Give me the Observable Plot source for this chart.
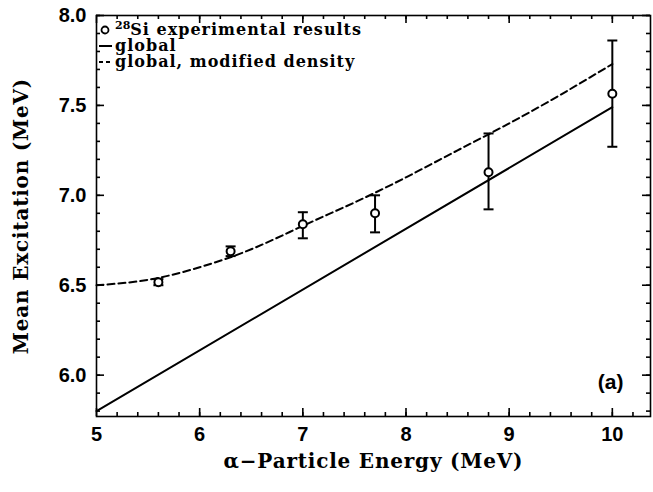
<!DOCTYPE html>
<html><head><meta charset="utf-8">
<script src="https://cdn.jsdelivr.net/npm/d3@7"></script>
<script src="https://cdn.jsdelivr.net/npm/@observablehq/plot@0.6"></script>
<style>
body{margin:0;background:#fff;}
#wrap{position:relative;width:653px;height:492px;}
.legend{position:absolute;left:99px;top:22px;font-family:"DejaVu Serif",serif;font-weight:bold;font-size:16px;letter-spacing:1px;color:#000;}
.legend .row{height:16px;line-height:16px;display:flex;align-items:center;white-space:nowrap;}
.legend svg{margin-right:2px;}
.legend sup{font-size:11px;vertical-align:6px;line-height:0;letter-spacing:0;}
</style></head><body><div id="wrap"></div>
<script>
// data
const energy     = [5.6, 6.3, 7.0, 7.7, 8.8, 10.0];
const excitation = [6.517, 6.689, 6.839, 6.900, 7.128, 7.565];
const errLow     = [6.500, 6.662, 6.761, 6.794, 6.922, 7.270];
const errHigh    = [6.534, 6.716, 6.906, 7.000, 7.344, 7.861];

const globalE = [5.0, 10.0];
const globalM = [5.80, 7.49];

const modE = [5.0, 5.5, 6.0, 6.5, 7.0, 7.5, 8.0, 8.5, 9.0, 9.5, 10.0];
const modM = [6.50, 6.53, 6.60, 6.70, 6.83, 6.96, 7.10, 7.25, 7.40, 7.56, 7.73];

const xTicks = [5, 6, 7, 8, 9, 10];
const yTicks = [6.0, 6.5, 7.0, 7.5, 8.0];
const xMinor = d3.range(5.2, 10.4, 0.2).map(v => +v.toFixed(1));
const yMinor = d3.range(5.8, 8.0001, 0.1).map(v => +v.toFixed(1));

const points = energy.map((e, i) => ({e, m: excitation[i], lo: errLow[i], hi: errHigh[i]}));
const globalLine = globalE.map((e, i) => ({e, m: globalM[i]}));
const modLine = modE.map((e, i) => ({e, m: modM[i]}));

const W = 653, H = 492, ML = 96, MR = 3, MT = 15, MB = 76;
const PW = W - ML - MR, PH = H - MT - MB;

const cap = {draw(ctx) { ctx.moveTo(-5, 0); ctx.lineTo(5, 0); }};

const tickFont = {fontFamily: "'Liberation Sans', Arial, sans-serif", fontWeight: "bold", fontSize: 20};
const ts = {stroke: "#000", strokeWidth: 1.6};
const major = 8, minor = 4;

const chart = Plot.plot({
  width: W, height: H,
  marginLeft: ML, marginRight: MR, marginTop: MT, marginBottom: MB,
  style: {background: "#fff", color: "#000", overflow: "visible"},
  x: {domain: [5, 10.37], axis: null},
  y: {domain: [5.77, 8.0], axis: null},
  marks: [
    Plot.frame({stroke: "#000", strokeWidth: 1.6}),
    // inward major ticks
    Plot.ruleX(xTicks, {x: d => d, insetTop: PH - major, ...ts}),
    Plot.ruleX(xTicks, {x: d => d, insetBottom: PH - major, ...ts}),
    Plot.ruleY(yTicks, {y: d => d, insetRight: PW - major, ...ts}),
    Plot.ruleY(yTicks, {y: d => d, insetLeft: PW - major, ...ts}),
    // inward minor ticks
    Plot.ruleX(xMinor, {x: d => d, insetTop: PH - minor, ...ts}),
    Plot.ruleX(xMinor, {x: d => d, insetBottom: PH - minor, ...ts}),
    Plot.ruleY(yMinor, {y: d => d, insetRight: PW - minor, ...ts}),
    Plot.ruleY(yMinor, {y: d => d, insetLeft: PW - minor, ...ts}),
    // tick labels
    Plot.axisX(xTicks, {anchor: "bottom", tickSize: 0, tickPadding: 10, tickFormat: d => String(d), label: null, ...tickFont}),
    Plot.axisY(yTicks, {anchor: "left", tickSize: 0, tickPadding: 10, tickFormat: d => d.toFixed(1), label: null, ...tickFont}),
    // curves
    Plot.line(globalLine, {x: "e", y: "m", stroke: "#000", strokeWidth: 2}),
    Plot.line(modLine, {x: "e", y: "m", stroke: "#000", strokeWidth: 2, strokeDasharray: "7,4", curve: "natural"}),
    // error bars
    Plot.ruleX(points, {x: "e", y1: "lo", y2: "hi", stroke: "#000", strokeWidth: 2}),
    Plot.dot(points, {x: "e", y: "lo", symbol: cap, stroke: "#000", strokeWidth: 2}),
    Plot.dot(points, {x: "e", y: "hi", symbol: cap, stroke: "#000", strokeWidth: 2}),
    Plot.dot(points, {x: "e", y: "m", r: 4, stroke: "#000", fill: "#fff", strokeWidth: 2}),
    // panel label
    Plot.text(["(a)"], {frameAnchor: "bottom-right", dx: -27, dy: -28, text: d => d, ...tickFont, fontSize: 21}),
    // axis titles
    Plot.text(["α−Particle Energy (MeV)"], {frameAnchor: "bottom", dy: 51, text: d => d, fontFamily: "'DejaVu Serif', serif", fontWeight: "bold", fontSize: 20}),
    Plot.text(["Mean Excitation (MeV)"], {frameAnchor: "left", dx: -75, rotate: -90, textAnchor: "middle", text: d => d, fontFamily: "'DejaVu Serif', serif", fontWeight: "bold", fontSize: 20})
  ]
});

d3.select(chart).selectAll("text")
  .filter(function() { return this.textContent.includes("MeV"); })
  .style("letter-spacing", "0.8px");

const wrap = document.getElementById("wrap");
wrap.appendChild(chart);

const legend = document.createElement("div");
legend.className = "legend";
legend.innerHTML = `
<div class="row"><svg width="14" height="16"><circle cx="6" cy="8" r="3.5" fill="#fff" stroke="#000" stroke-width="1.8"/></svg><span><sup>28</sup>Si experimental results</span></div>
<div class="row"><svg width="14" height="16"><line x1="0" y1="8" x2="13" y2="8" stroke="#000" stroke-width="2"/></svg><span>global</span></div>
<div class="row"><svg width="14" height="16"><line x1="0" y1="8" x2="13" y2="8" stroke="#000" stroke-width="2" stroke-dasharray="4,3"/></svg><span>global, modified density</span></div>`;
wrap.appendChild(legend);
</script>
</body></html>
